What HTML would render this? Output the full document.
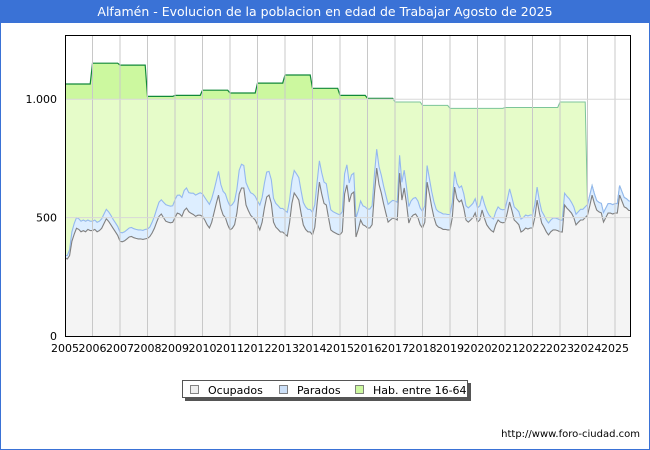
<!DOCTYPE html>
<html><head><meta charset="utf-8"><style>
body{margin:0;background:#fff;font-family:"DejaVu Sans","Liberation Sans",sans-serif}
#wrap{position:relative;width:648px;height:448px;border:1px solid #3a72d6;background:#fff}
#title{position:absolute;left:0;top:0;width:648px;height:22px;background:#3a72d6;color:#fff;font-size:12.5px;line-height:22px;text-align:center}
svg text{font-family:"DejaVu Sans","Liberation Sans",sans-serif}
</style></head><body>
<div id="wrap">
<div id="title">Alfamén - Evolucion de la poblacion en edad de Trabajar Agosto de 2025</div>
<svg id="svg" width="650" height="450" style="position:absolute;left:-1px;top:-1px"></svg>
</div>
<script>
const years=[2005,2006,2007,2008,2009,2010,2011,2012,2013,2014,2015,2016,2017,2018,2019,2020,2021,2022,2023,2024,2025];
const yTicks=[0,500,1000];
const yTickLabels=["0","500","1.000"];
const hab=[1064,1152,1144,1012,1016,1038,1026,1068,1102,1046,1016,1004,988,974,961,961,965,965,988];
const ocupados=[
330,325,340,400,430,455,450,440,445,440,450,445,
445,450,440,445,455,475,495,485,470,455,440,425,
400,398,402,410,418,420,415,412,410,410,408,410,
412,420,435,455,481,505,515,500,485,481,478,480,
500,519,515,505,530,540,525,518,513,505,510,510,
505,490,470,456,480,520,560,595,540,511,500,470,
448,455,470,520,600,625,625,553,530,510,500,490,
470,448,480,540,587,595,560,481,460,450,439,439,
430,422,480,560,604,590,574,520,469,450,440,439,
427,460,560,650,600,560,553,500,448,440,435,430,
427,440,600,638,566,600,608,418,450,490,470,465,
456,456,470,600,709,640,604,560,520,481,490,498,
495,490,688,574,625,560,477,500,511,515,500,470,
456,480,650,600,545,500,469,460,456,450,450,448,
448,500,629,580,566,574,540,490,481,490,500,520,
481,490,532,498,470,456,445,439,470,490,481,478,
480,520,566,530,490,481,470,439,445,456,452,456,
456,500,574,520,477,460,440,427,440,448,448,445,
440,439,553,540,530,519,500,469,480,490,490,500,
510,550,595,560,532,524,520,481,500,519,519,515,
519,519,595,570,545,540,530,530];
const parados=[
10,15,25,40,45,45,45,45,45,45,40,40,
40,40,40,40,40,40,40,40,40,38,38,38,
38,38,38,38,38,38,38,38,38,38,38,40,
40,40,45,50,55,60,60,65,70,70,70,70,
75,75,80,80,85,85,80,85,90,90,90,95,
95,95,100,100,100,95,95,100,100,100,100,100,
100,100,100,100,100,100,95,95,95,95,100,100,
100,105,105,105,105,100,100,100,100,100,100,100,
100,100,95,95,95,95,95,95,95,95,95,95,
95,95,90,90,90,90,90,85,85,85,85,85,
85,85,85,85,80,80,80,80,80,80,80,80,
80,80,80,80,80,75,75,75,75,75,75,75,
75,75,75,75,75,70,70,70,70,70,70,70,
70,70,70,65,65,65,65,65,65,65,65,65,
65,65,65,65,60,60,60,60,60,60,60,60,
60,60,60,60,60,55,55,55,55,55,55,55,
55,55,55,55,55,55,55,55,55,55,55,55,
55,55,55,50,50,50,50,50,50,50,50,50,
50,50,50,50,50,45,45,45,45,45,45,45,
45,45,40,40,40,40,40,40,40,40,40,40,
40,40,40,40,40,40,40,40];

const NS="http://www.w3.org/2000/svg";
const svg=document.getElementById('svg');
const L=65,R=630,T=35,B=336;
const X=t=>L+(t-2005)*27.5;
const Y=v=>B-v*0.2368;
function mk(tag,attrs,parent){const e=document.createElementNS(NS,tag);for(const k in attrs)e.setAttribute(k,attrs[k]);(parent||svg).appendChild(e);return e;}
const defs=mk('defs',{});
const cp=mk('clipPath',{id:'plot'},defs);mk('rect',{x:L,y:T,width:R-L,height:B-T},cp);
const cpTop=mk('clipPath',{id:'above'},defs);mk('rect',{x:L,y:T,width:R-L,height:Y(1000)-T},cpTop);
const cpBot=mk('clipPath',{id:'below'},defs);mk('rect',{x:L,y:Y(1000),width:R-L,height:B-Y(1000)},cpBot);

const n=ocupados.length;
const tx=i=>X(2005+i/12);
const tot=ocupados.map((v,i)=>v+parados[i]);
const habM=ocupados.map((v,i)=>{const yi=Math.floor(i/12);return yi<hab.length?hab[yi]:tot[i];});
function linePts(arr){return arr.map((v,i)=>tx(i).toFixed(1)+','+Y(v).toFixed(1)).join(' ');}
function areaPts(arr){return linePts(arr)+' '+tx(n-1).toFixed(1)+','+B+' '+tx(0).toFixed(1)+','+B;}

mk('rect',{x:L,y:T,width:R-L,height:B-T,fill:'#fff'});
const g=mk('g',{'clip-path':'url(#plot)'});


const habA=mk('polygon',{points:areaPts(habM),fill:'#e6fcc9','clip-path':'url(#below)'},g);


const habA2=mk('polygon',{points:areaPts(habM),fill:'#ccf89f','clip-path':'url(#above)'},g);


const habL=mk('polyline',{points:linePts(habM),fill:'none',stroke:'#7cc49a','stroke-width':1,'clip-path':'url(#below)'},g);


const habL2=mk('polyline',{points:linePts(habM),fill:'none',stroke:'#11883a','stroke-width':1.2,'clip-path':'url(#above)'},g);


const parA=mk('polygon',{points:areaPts(tot),fill:'#ddeeff'},g);


const parL=mk('polyline',{points:linePts(tot),fill:'none',stroke:'#94b8ee','stroke-width':1.1},g);


const ocA=mk('polygon',{points:areaPts(ocupados),fill:'#f4f4f4'},g);


const ocL=mk('polyline',{points:linePts(ocupados),fill:'none',stroke:'#808080','stroke-width':1.1},g);


years.forEach(yr=>{
  if(yr>2005){const gl=mk('line',{x1:X(yr),x2:X(yr),y1:T,y2:B,stroke:'#c8c8c8','stroke-width':1});
  
  }
  const t=mk('text',{x:X(yr),y:B+16,'font-size':11,'text-anchor':'middle',fill:'#000'});
  t.textContent=yr;
  
  
});
yTicks.forEach((v,i)=>{
  if(v>0){const gl=mk('line',{x1:L,x2:R,y1:Y(v),y2:Y(v),stroke:'#d8d8d8','stroke-width':1});
  
  }
  const t=mk('text',{x:L-8,y:Y(v)+4,'font-size':11,'text-anchor':'end',fill:'#000'});
  t.textContent=yTickLabels[i];
  
  
});
const border=mk('rect',{x:L+0.5,y:T+0.5,width:R-L,height:B-T,fill:'none',stroke:'#000','stroke-width':1});


const lg=mk('g',{});


mk('rect',{x:185,y:383,width:286,height:18,fill:'#555'},lg);
mk('rect',{x:182.5,y:380.5,width:285,height:17,fill:'#fff',stroke:'#555'},lg);
const items=[["Ocupados","#eeeeee",190],["Parados","#cce0f8",279],["Hab. entre 16-64","#ccf89f",355]];
items.forEach(it=>{
  const e=mk('g',{},lg);
  
  
  mk('rect',{x:it[2]+0.5,y:385.5,width:8,height:8,fill:it[1],stroke:'#666','stroke-width':0.8},e);
  const t=mk('text',{x:it[2]+18,y:394,'font-size':11,fill:'#000'},e);
  t.textContent=it[0];
});
const url=mk('text',{x:640,y:437,'font-size':10,'text-anchor':'end',fill:'#000'});
url.textContent='http://www.foro-ciudad.com';


</script>
</body></html>
